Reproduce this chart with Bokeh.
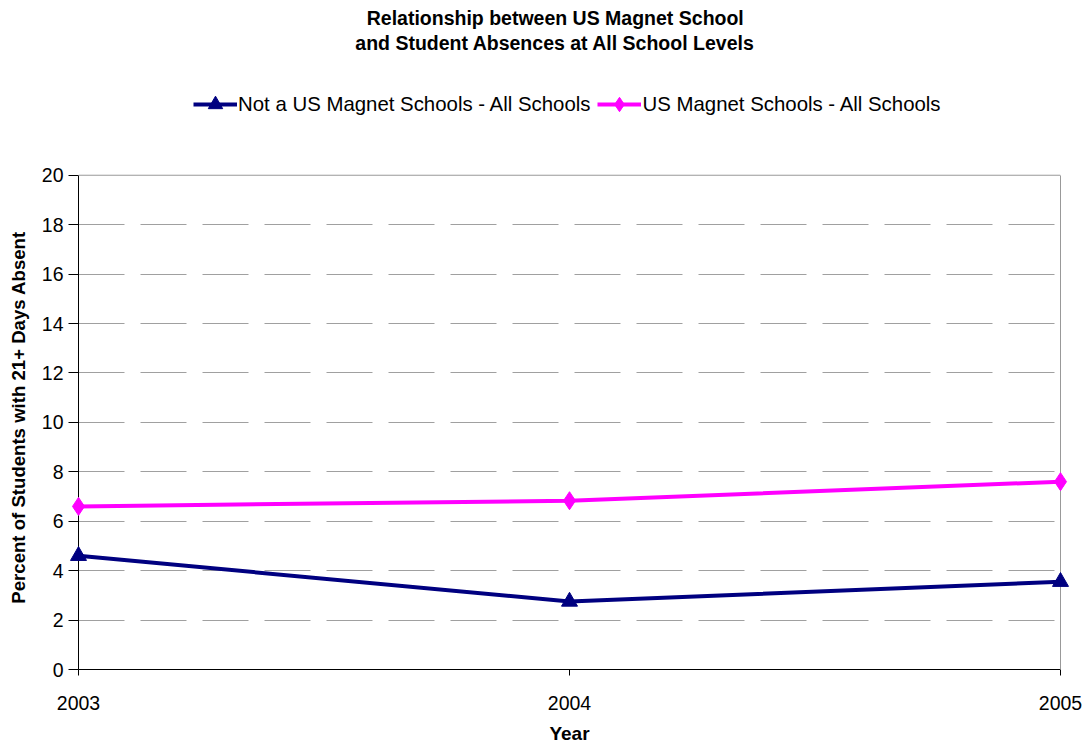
import math
from bokeh.plotting import figure
from bokeh.models import Range1d, FixedTicker, Legend, LegendItem, Label, LinearAxis, Span
from bokeh.core.properties import value
from bokeh.embed import file_html
from bokeh.resources import INLINE

years = [2003, 2004, 2005]
not_magnet = [4.6, 2.75, 3.55]
magnet = [6.6, 6.83, 7.6]
y_ticks = [0, 2, 4, 6, 8, 10, 12, 14, 16, 18, 20]
grid_ticks = [2, 4, 6, 8, 10, 12, 14, 16, 18]
title_lines = ["Relationship between US Magnet School", "and Student Absences at All School Levels"]
y_label = "Percent of Students with 21+ Days Absent"
x_label = "Year"

FONT = "Liberation Sans"
Y_MAX = 20
Y_TOP = 670 / 24.75  # frame extends up to the top of the canvas to hold title & legend

p = figure(width=1088, height=746, output_backend="svg", toolbar_location=None,
           x_range=Range1d(2003, 2005), y_range=Range1d(0, Y_TOP),
           min_border_left=78, min_border_right=28, min_border_bottom=76, min_border_top=0)
p.title_location = None

p.background_fill_color = "white"
p.border_fill_color = "white"
p.outline_line_color = None

p.xgrid.grid_line_color = None
p.ygrid.grid_line_color = "#a0a0a0"
p.ygrid.grid_line_dash = "46 16"
p.ygrid.grid_line_width = 1
p.ygrid.ticker = FixedTicker(ticks=grid_ticks)

p.xaxis.ticker = FixedTicker(ticks=years)
p.yaxis.ticker = FixedTicker(ticks=y_ticks)
p.yaxis.bounds = (0, Y_MAX)
for ax in (p.xaxis[0], p.yaxis[0]):
    ax.axis_line_color = "black"
    ax.axis_line_width = 1
    ax.major_tick_line_color = "black"
    ax.major_tick_in = 0
    ax.minor_tick_line_color = None
    ax.major_label_text_font = FONT
    ax.major_label_text_font_size = "19.5px"
    ax.major_label_text_color = "black"
    ax.axis_label_text_font = FONT
    ax.axis_label_text_font_size = "19px"
    ax.axis_label_text_font_style = "bold"
    ax.axis_label_text_color = "black"

p.xaxis.major_tick_out = 6
p.yaxis.major_tick_out = 10
p.xaxis.axis_label = x_label
p.xaxis.major_label_standoff = 20
p.xaxis.axis_label_standoff = 10
p.yaxis.major_label_standoff = 5

# right border of the plot area
right_axis = LinearAxis(bounds=(0, Y_MAX), ticker=FixedTicker(ticks=[]), axis_line_color="#999999",
                        major_tick_line_color=None, minor_tick_line_color=None,
                        major_label_text_font_size="0px")
p.add_layout(right_axis, "right")

# top border of the plot area
p.add_layout(Span(location=Y_MAX, dimension="width", line_color="#999999", line_width=1))

for line, yv in zip(title_lines, [26.38, 25.37]):
    p.add_layout(Label(x=2003.971, y=yv, text=line, text_align="center", text_baseline="middle",
                       text_font=FONT, text_font_size="19.5px", text_font_style="bold",
                       text_color="black"))

# y axis title (drawn as an unclipped text glyph left of the frame)
p.text(x=[2002.878], y=[10.2], text=[y_label], angle=math.pi / 2, text_align="center",
       text_baseline="middle", text_font=value(FONT), text_font_size=value("18.6px"),
       text_font_style="bold", text_color="black", level="overlay")

l1 = p.line(years, not_magnet, line_color="#000080", line_width=4)
m1 = p.scatter(years, not_magnet, marker="triangle", size=16, fill_color="#000080",
               line_color="#000080", level="overlay")
l2 = p.line(years, magnet, line_color="#FF00FF", line_width=4)
m2 = p.scatter(years, magnet, marker="diamond", size=18, fill_color="#FF00FF",
               line_color="#FF00FF", level="overlay")

legend = Legend(items=[
    LegendItem(label="Not a US Magnet Schools - All Schools", renderers=[l1, m1]),
    LegendItem(label="US Magnet Schools - All Schools", renderers=[l2, m2]),
], orientation="horizontal", location=(115, 547))
legend.label_text_font = FONT
legend.label_text_font_size = "20.4px"
legend.label_text_color = "black"
legend.border_line_color = None
legend.background_fill_alpha = 0
legend.glyph_width = 44
legend.glyph_height = 36
legend.label_standoff = 1
legend.spacing = 7
legend.padding = 0
legend.margin = 0
p.add_layout(legend, "center")

open("out.html", "w").write(file_html(p, INLINE))
